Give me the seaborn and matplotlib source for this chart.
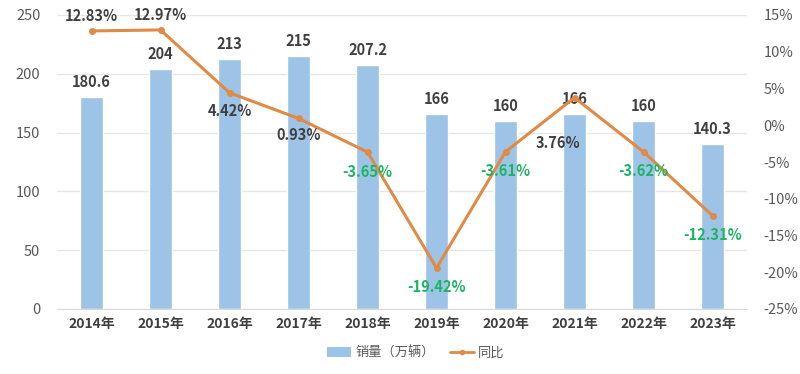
import numpy as np
import pandas as pd
import matplotlib
matplotlib.use("Agg")
import matplotlib.pyplot as plt
import seaborn as sns
from matplotlib.patches import Patch
from matplotlib.lines import Line2D

# === data ===
years = ["2014年", "2015年", "2016年", "2017年", "2018年",
         "2019年", "2020年", "2021年", "2022年", "2023年"]
sales = [180.6, 204, 213, 215, 207.2, 166, 160, 166, 160, 140.3]
yoy = [12.83, 12.97, 4.42, 0.93, -3.65, -19.42, -3.61, 3.76, -3.62, -12.31]

sns.set_style("white")
plt.rcParams['font.family'] = ['Noto Sans CJK SC', 'DejaVu Sans']

BAR_COLOR = "#9DC3E6"
LINE_COLOR = "#E08A45"
TEXT_DARK = "#404040"
TICK_GRAY = "#595959"
GREEN = "#1DB564"

df = pd.DataFrame({"year": years, "sales": sales, "yoy": yoy})

fig = plt.figure(figsize=(8, 3.74), dpi=100)
ax = fig.add_axes([57 / 800, 1 - 309 / 374, 690 / 800, 294 / 374])

sns.barplot(data=df, x="year", y="sales", color=BAR_COLOR, width=0.33,
            saturation=1, ax=ax, zorder=2)
ax.set_ylim(0, 250)
ax.set_yticks(range(0, 251, 50))
ax.set_xlim(-0.5, len(years) - 0.5)
ax.set_xlabel("")
ax.set_ylabel("")
ax.grid(axis="y", color="#E6E6E6", linewidth=1, zorder=0)
ax.set_axisbelow(True)
for s in ["top", "right", "left"]:
    ax.spines[s].set_visible(False)
ax.spines["bottom"].set_color("#D9D9D9")
ax.tick_params(axis="y", length=0, labelsize=10.5, labelcolor=TICK_GRAY, pad=12)
ax.tick_params(axis="x", length=0, labelsize=10, labelcolor=TEXT_DARK, pad=6)
for lbl in ax.get_xticklabels():
    lbl.set_fontweight("bold")

# bar value labels
for i, v in enumerate(sales):
    ax.annotate(f"{v:g}", (i, v), xytext=(0, 5), textcoords="offset points",
                ha="center", va="bottom", fontsize=10.5, fontweight="bold",
                color=TEXT_DARK)

# yoy line on secondary axis
ax2 = ax.twinx()
sns.lineplot(x=np.arange(len(years)), y=yoy, ax=ax2, color=LINE_COLOR,
             linewidth=2.2, marker="o", markersize=5, markeredgewidth=0,
             zorder=3)
ax2.set_ylim(-25, 15)
ax2.set_yticks(range(-25, 16, 5))
ax2.set_yticklabels([f"{t}%" for t in range(-25, 16, 5)])
ax2.tick_params(axis="y", length=0, labelsize=10.5, labelcolor=TICK_GRAY, pad=12)
for s in ax2.spines.values():
    s.set_visible(False)
ax2.grid(False)

# yoy labels (offsets in points)
offsets = [(0, 11), (0, 11), (0, -13), (0, -12), (0, -14),
           (0, -14), (0, -14), (-12, -33), (0, -14), (0, -14)]
for i, (v, off) in enumerate(zip(yoy, offsets)):
    ax2.annotate(f"{v:.2f}%", (i, v), xytext=off, textcoords="offset points",
                 ha="center", va="center", fontsize=10.5, fontweight="bold",
                 color=GREEN if v < 0 else TEXT_DARK, zorder=5)

handles = [Patch(facecolor=BAR_COLOR, edgecolor="none"),
           Line2D([0], [0], color=LINE_COLOR, linewidth=2, marker="o",
                  markersize=4, markeredgewidth=0)]
fig.legend(handles, ["销量（万辆）", "同比"], loc="center",
           bbox_to_anchor=(0.52, 1 - 353 / 374), ncol=2, frameon=False,
           fontsize=9.5, labelcolor=TICK_GRAY, handlelength=1.8,
           handleheight=0.7, columnspacing=1.2, handletextpad=0.3)

fig.savefig("out.png", dpi=100)
